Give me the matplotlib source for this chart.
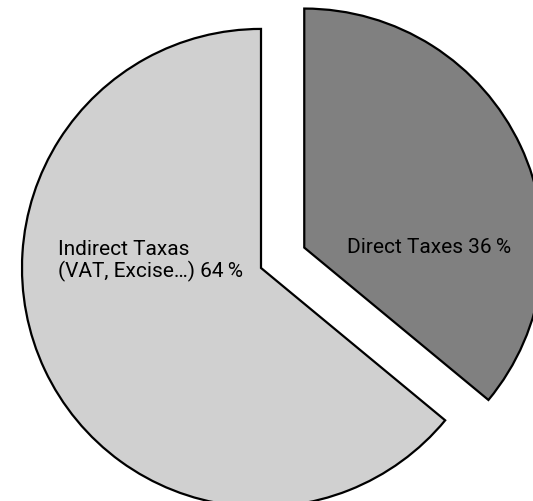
import matplotlib
matplotlib.use("Agg")
import matplotlib.pyplot as plt

# tax revenue split (share, %)
labels = ["Direct Taxes", "Indirect Taxas\n(VAT, Excise\u2026)"]
shares = [36, 64]
colors = ["#808080", "#d0d0d0"]
explode = [0.2, 0]

plt.rcParams['font.family'] = ['Roboto', 'DejaVu Sans']

fig = plt.figure(figsize=(5.33, 5.01), dpi=100)
ax = fig.add_axes([0, 0, 1, 1])
wedges, _ = ax.pie(shares, explode=explode, colors=colors, startangle=90,
                   counterclock=False, radius=1,
                   wedgeprops=dict(edgecolor="black", linewidth=1.6))

ax.set_xlim(-1.092, 1.138)
ax.set_ylim(-0.975, 1.121)
ax.set_aspect("auto")
ax.axis("off")

# labels placed inside each wedge, relative to the wedge's own centre
offsets = [(0.18, 0.0), (-0.85, 0.03)]
for w, lab, s, (dx, dy) in zip(wedges, labels, shares, offsets):
    cx, cy = w.center
    ax.text(cx + dx, cy + dy, f"{lab} {s}\u2009%", ha="left", va="center",
            fontsize=15, linespacing=1.1)

fig.savefig("out.png", dpi=100)
